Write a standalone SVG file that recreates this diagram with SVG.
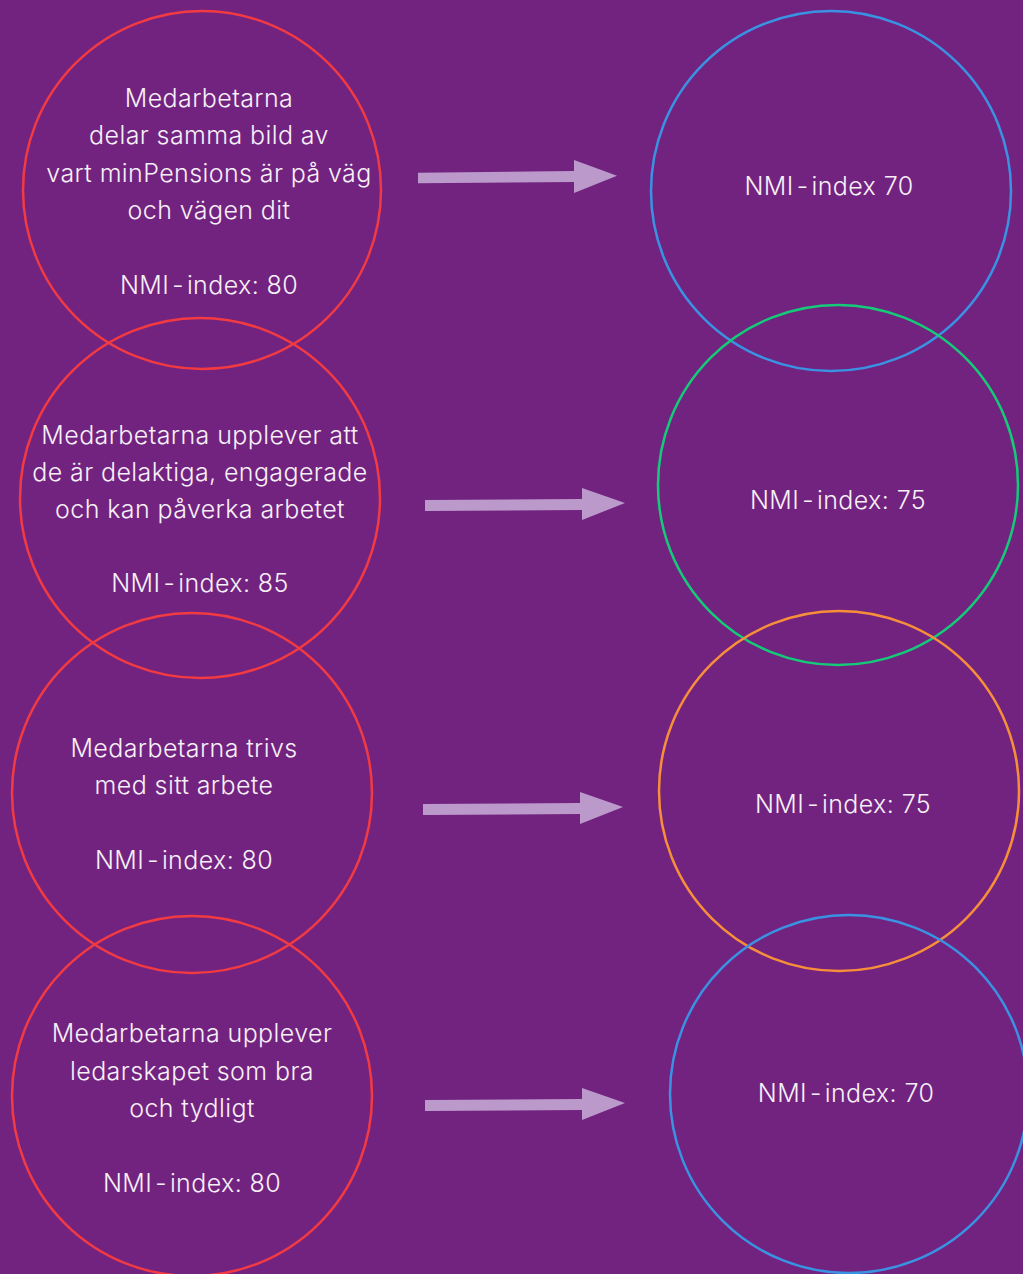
<svg xmlns="http://www.w3.org/2000/svg" width="1023" height="1274" viewBox="0 0 1023 1274">
<style>
.c{fill:none;stroke-width:2.5}
.red{stroke:#F23A42}
.blue{stroke:#3A92E2}
.green{stroke:#14CC78}
.orange{stroke:#F78E3A}
text{font-family:Inter,"Noto Sans",sans-serif;font-weight:300;font-size:25px;letter-spacing:0.4px;fill:#F7F0F7;text-anchor:middle}
.a{fill:#BB9ACB}
</style>
<rect width="1023" height="1274" fill="#722380"/>
<g id="connectors">
<polygon class="a" points="418,172.7 574,171 574,160 617,175.7 574,193 574,182 418,183.3"/>
<polygon class="a" points="425,500 582,499 582,488 625,503 582,520 582,510 425,511"/>
<polygon class="a" points="423,804 580,803 580,792 623,807 580,824 580,814 423,815"/>
<polygon class="a" points="425,1100 582,1099 582,1088 625,1103 582,1120 582,1110 425,1111"/>
</g>
<g id="n1"><circle class="c red" cx="202" cy="190" r="179"/>
<text x="209" y="107">Medarbetarna</text><text x="209" y="144">delar samma bild av</text><text x="209" y="182">vart minPensions är på väg</text><text x="209" y="219">och vägen dit</text><text x="209" y="294">NMI<tspan dx="3">-</tspan><tspan dx="3">index: 80</tspan></text></g>
<g id="n2"><circle class="c red" cx="200" cy="498" r="180"/>
<text x="200" y="444">Medarbetarna upplever att</text><text x="200" y="481">de är delaktiga, engagerade</text><text x="200" y="518">och kan påverka arbetet</text><text x="200" y="592">NMI<tspan dx="3">-</tspan><tspan dx="3">index: 85</tspan></text></g>
<g id="n3"><circle class="c red" cx="192" cy="793" r="180"/>
<text x="184" y="757">Medarbetarna trivs</text><text x="184" y="794">med sitt arbete</text><text x="184" y="869">NMI<tspan dx="3">-</tspan><tspan dx="3">index: 80</tspan></text></g>
<g id="n4"><circle class="c red" cx="192" cy="1096" r="180"/>
<text x="192" y="1042">Medarbetarna upplever</text><text x="192" y="1080">ledarskapet som bra</text><text x="192" y="1117">och tydligt</text><text x="192" y="1192">NMI<tspan dx="3">-</tspan><tspan dx="3">index: 80</tspan></text></g>
<g id="m1"><circle class="c blue" cx="831" cy="191" r="180"/><text x="829" y="195">NMI<tspan dx="3">-</tspan><tspan dx="3">index 70</tspan></text></g>
<g id="m2"><circle class="c green" cx="838" cy="485" r="180"/><text x="838" y="509">NMI<tspan dx="3">-</tspan><tspan dx="3">index: 75</tspan></text></g>
<g id="m3"><circle class="c orange" cx="839" cy="791" r="180"/><text x="843" y="813">NMI<tspan dx="3">-</tspan><tspan dx="3">index: 75</tspan></text></g>
<g id="m4"><circle class="c blue" cx="849" cy="1094" r="179"/><text x="846" y="1102">NMI<tspan dx="3">-</tspan><tspan dx="3">index: 70</tspan></text></g>
</svg>
